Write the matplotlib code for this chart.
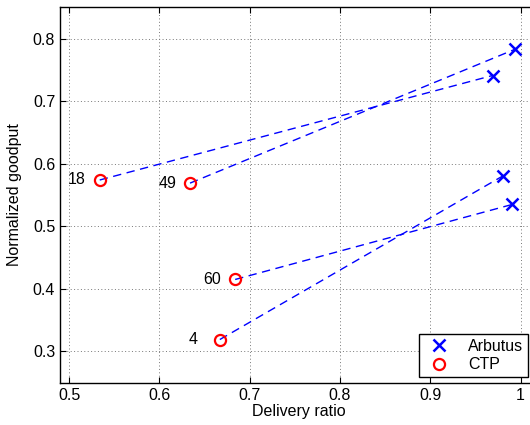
import numpy as np
import matplotlib.pyplot as plt

plt.rcParams['font.family'] = ['Liberation Sans', 'DejaVu Sans']
plt.rcParams['font.size'] = 11.5

# delivery ratio / normalized goodput, one pair per run
ctp_x = [0.534, 0.634, 0.684, 0.667]
ctp_y = [0.574, 0.569, 0.415, 0.319]
arb_x = [0.969, 0.994, 0.991, 0.981]
arb_y = [0.741, 0.783, 0.535, 0.581]
labels = ['18', '49', '60', '4']

fig = plt.figure(figsize=(5.3, 4.25), dpi=100)
ax = fig.add_axes([0.1132, 0.0995, 0.903, 0.8833])

for i in range(len(labels)):
    ax.plot([ctp_x[i], arb_x[i]], [ctp_y[i], arb_y[i]], '--', color='#0000ff',
            lw=1.0, dashes=(6, 4), zorder=2)

ax.plot(arb_x, arb_y, 'x', color='#0000ff', ms=8, mew=1.8, ls='none',
        label='Arbutus', zorder=3)
ax.plot(ctp_x, ctp_y, 'o', mfc='none', mec='#ff0000', ms=8, mew=1.6, ls='none',
        label='CTP', zorder=3)

# label offsets (points) to the left of each CTP point
offs = {'18': -10, '49': -10, '60': -10, '4': -16}
for x, y, t in zip(ctp_x, ctp_y, labels):
    ax.annotate(t, (x, y), xytext=(offs[t], 0), textcoords='offset points',
                ha='right', va='center')

ax.set_xlim(0.49, 1.02)
ax.set_ylim(0.25, 0.85)
ax.set_xticks([0.5, 0.6, 0.7, 0.8, 0.9, 1.0])
ax.set_xticklabels(['0.5', '0.6', '0.7', '0.8', '0.9', '1'])
ax.set_yticks([0.3, 0.4, 0.5, 0.6, 0.7, 0.8])
ax.grid(True, ls=(0, (1, 2.5)), color='#777777', lw=0.7)
ax.tick_params(direction='in', top=True, right=True, length=4)
ax.set_xlabel('Delivery ratio', labelpad=1)
ax.set_ylabel('Normalized goodput', labelpad=8)
for s in ax.spines.values():
    s.set_linewidth(1.0)

leg = ax.legend(loc='lower right', bbox_to_anchor=(528 / 530, 1 - 377 / 425),
                bbox_transform=fig.transFigure, borderaxespad=0, fancybox=False,
                framealpha=1, edgecolor='black', handletextpad=0.8,
                borderpad=0.3, labelspacing=0.2)
leg.get_frame().set_linewidth(1.0)

fig.savefig('out.png', dpi=100)
